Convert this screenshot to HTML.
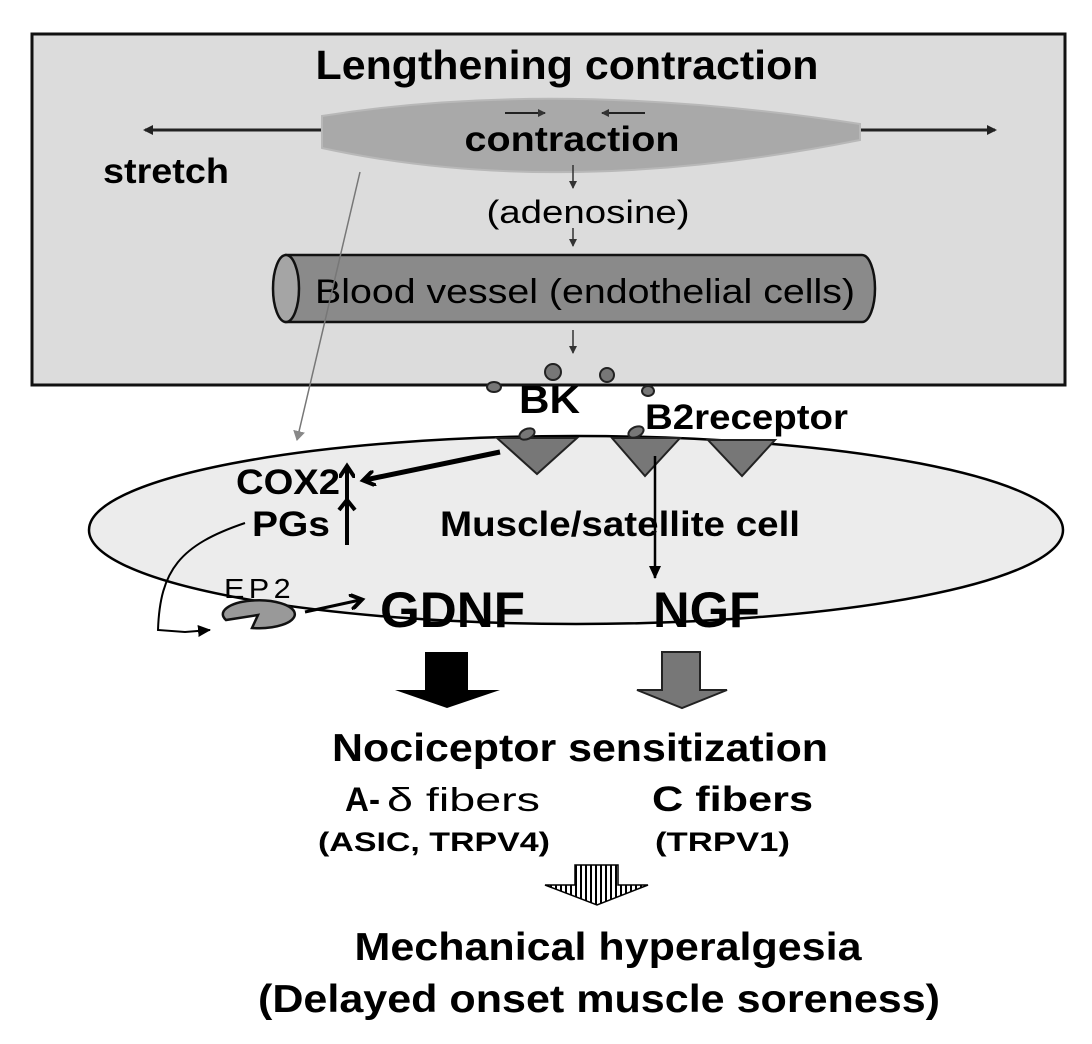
<!DOCTYPE html>
<html><head><meta charset="utf-8"><style>
html,body{margin:0;padding:0;background:#fff;}
svg{display:block;}
text{font-family:"Liberation Sans",sans-serif;fill:#000;}
.b{font-weight:bold;}
</style></head><body>
<svg width="1092" height="1044" viewBox="0 0 1092 1044" xmlns="http://www.w3.org/2000/svg">
<defs>
<marker id="ah" markerWidth="10" markerHeight="10" refX="8" refY="5" orient="auto" markerUnits="userSpaceOnUse"><path d="M0,0 L10,5 L0,10 Z" fill="#222"/></marker>
<marker id="ahs" markerWidth="8" markerHeight="8" refX="7" refY="4" orient="auto" markerUnits="userSpaceOnUse"><path d="M0,0 L8,4 L0,8 Z" fill="#333"/></marker>
<marker id="ahb" markerWidth="16" markerHeight="16" refX="10" refY="8" orient="auto" markerUnits="userSpaceOnUse"><path d="M0,0 L12,8 L0,16" fill="none" stroke="#000" stroke-width="4"/></marker>
<marker id="ahg" markerWidth="10" markerHeight="12" refX="9" refY="6" orient="auto" markerUnits="userSpaceOnUse"><path d="M0,0 L10,6 L0,12 Z" fill="#888"/></marker>
<marker id="ahk" markerWidth="14" markerHeight="14" refX="12" refY="7" orient="auto" markerUnits="userSpaceOnUse"><path d="M0,1 L13,7 L0,13 Z" fill="#000"/></marker>
<pattern id="str" width="5" height="10" patternUnits="userSpaceOnUse"><rect width="5" height="10" fill="#fff"/><rect width="2" height="10" fill="#000"/></pattern>
</defs>
<rect x="32" y="34" width="1033" height="351" fill="#dcdcdc" stroke="#111" stroke-width="3"/>
<text x="567" y="79" class="b" font-size="41" text-anchor="middle" textLength="503" lengthAdjust="spacingAndGlyphs">Lengthening contraction</text>
<line x1="322" y1="130" x2="145" y2="130" stroke="#222" stroke-width="3" marker-end="url(#ah)"/>
<line x1="858" y1="130" x2="995" y2="130" stroke="#222" stroke-width="3" marker-end="url(#ah)"/>
<path d="M322,116 Q560,78 860,124 L860,140 Q560,200 322,148 Z" fill="#a9a9a9" stroke="#b8b8b8" stroke-width="2"/>
<line x1="505" y1="113" x2="545" y2="113" stroke="#222" stroke-width="2" marker-end="url(#ahs)"/>
<line x1="645" y1="113" x2="602" y2="113" stroke="#222" stroke-width="2" marker-end="url(#ahs)"/>
<text x="572" y="151" class="b" font-size="35" text-anchor="middle" textLength="215" lengthAdjust="spacingAndGlyphs">contraction</text>
<text x="103" y="183" class="b" font-size="35" textLength="126" lengthAdjust="spacingAndGlyphs">stretch</text>
<line x1="573" y1="165" x2="573" y2="188" stroke="#333" stroke-width="1.5" marker-end="url(#ahs)"/>
<text x="588" y="223" font-size="32" text-anchor="middle" textLength="203" lengthAdjust="spacingAndGlyphs">(adenosine)</text>
<line x1="573" y1="228" x2="573" y2="246" stroke="#333" stroke-width="1.5" marker-end="url(#ahs)"/>
<path d="M286,255 L862,255 A13,33.5 0 0 1 862,322 L286,322 Z" fill="#8a8a8a" stroke="#111" stroke-width="2.5"/>
<ellipse cx="286" cy="288.5" rx="13" ry="33.5" fill="#a5a5a5" stroke="#111" stroke-width="2.5"/>
<text x="585" y="303" font-size="34" text-anchor="middle" textLength="540" lengthAdjust="spacingAndGlyphs">Blood vessel (endothelial cells)</text>
<line x1="573" y1="330" x2="573" y2="353" stroke="#333" stroke-width="1.5" marker-end="url(#ahs)"/>
<line x1="360" y1="172" x2="297" y2="440" stroke="#777" stroke-width="1.5" marker-end="url(#ahg)"/>
<ellipse cx="576" cy="530" rx="487" ry="94" fill="#ececec" stroke="#000" stroke-width="2.5"/>
<circle cx="553" cy="372" r="8" fill="#777" stroke="#222" stroke-width="2"/>
<circle cx="607" cy="375" r="7" fill="#777" stroke="#222" stroke-width="2"/>
<ellipse cx="494" cy="387" rx="7" ry="5" fill="#777" stroke="#222" stroke-width="2"/>
<ellipse cx="648" cy="391" rx="6" ry="5" fill="#777" stroke="#222" stroke-width="2"/>
<text x="519" y="413" class="b" font-size="39" textLength="61" lengthAdjust="spacingAndGlyphs">BK</text>
<text x="645" y="429" class="b" font-size="35" textLength="203" lengthAdjust="spacingAndGlyphs">B2receptor</text>
<path d="M497,438 L577,438 L537,474 Z" fill="#777" stroke="#222" stroke-width="2"/>
<path d="M612,438 L680,438 L645,476 Z" fill="#777" stroke="#222" stroke-width="2"/>
<path d="M708,440 L775,440 L742,476 Z" fill="#777" stroke="#222" stroke-width="2"/>
<ellipse cx="527" cy="434" rx="8" ry="5" transform="rotate(-25 527 434)" fill="#777" stroke="#222" stroke-width="2"/>
<ellipse cx="636" cy="432" rx="8" ry="5" transform="rotate(-25 636 432)" fill="#777" stroke="#222" stroke-width="2"/>
<line x1="500" y1="452" x2="365" y2="480" stroke="#000" stroke-width="5" marker-end="url(#ahb)"/>
<line x1="347" y1="545" x2="347" y2="468" stroke="#000" stroke-width="4" marker-end="url(#ahb)"/>
<path d="M339,510 L347,500 L355,510" fill="none" stroke="#000" stroke-width="4"/>
<text x="236" y="494" class="b" font-size="35" textLength="104" lengthAdjust="spacingAndGlyphs">COX2</text>
<text x="252" y="536" class="b" font-size="35" textLength="78" lengthAdjust="spacingAndGlyphs">PGs</text>
<line x1="655" y1="456" x2="655" y2="578" stroke="#000" stroke-width="2.5" marker-end="url(#ahk)"/>
<text x="440" y="536" class="b" font-size="35" textLength="360" lengthAdjust="spacingAndGlyphs">Muscle/satellite cell</text>
<path d="M245,523 C180,545 160,570 158,630 L185,632 L210,630" fill="none" stroke="#000" stroke-width="2" marker-end="url(#ahk)"/>
<text x="224" y="598" font-size="28" letter-spacing="4" textLength="71" lengthAdjust="spacingAndGlyphs">EP2</text>
<path d="M258,615 L226,620 A36,14 0 1 1 252,628 Z" fill="#999" stroke="#111" stroke-width="2.5"/>
<line x1="305" y1="612" x2="360" y2="600" stroke="#000" stroke-width="3" marker-end="url(#ahb)"/>
<text x="380" y="627" class="b" font-size="50" textLength="145" lengthAdjust="spacingAndGlyphs">GDNF</text>
<text x="653" y="627" class="b" font-size="50" textLength="107" lengthAdjust="spacingAndGlyphs">NGF</text>
<path d="M425,652 L468,652 L468,690 L500,690 L447,708 L395,690 L425,690 Z" fill="#000"/>
<path d="M662,652 L700,652 L700,690 L727,690 L682,708 L637,690 L662,690 Z" fill="#777" stroke="#222" stroke-width="2"/>
<text x="580" y="761" class="b" font-size="39" text-anchor="middle" textLength="496" lengthAdjust="spacingAndGlyphs">Nociceptor sensitization</text>
<text x="345" y="811" class="b" font-size="34" textLength="35" lengthAdjust="spacingAndGlyphs">A-</text>
<text x="387" y="811" font-size="33" textLength="153" lengthAdjust="spacingAndGlyphs">δ fibers</text>
<text x="652" y="811" class="b" font-size="35" textLength="161" lengthAdjust="spacingAndGlyphs">C fibers</text>
<text x="318" y="851" class="b" font-size="27" textLength="232" lengthAdjust="spacingAndGlyphs">(ASIC, TRPV4)</text>
<text x="655" y="851" class="b" font-size="27" textLength="135" lengthAdjust="spacingAndGlyphs">(TRPV1)</text>
<path d="M575,865 L618,865 L618,885 L648,885 L597,905 L545,885 L575,885 Z" fill="url(#str)" stroke="#000" stroke-width="1.5"/>
<text x="608" y="960" class="b" font-size="39" text-anchor="middle" textLength="507" lengthAdjust="spacingAndGlyphs">Mechanical hyperalgesia</text>
<text x="599" y="1012" class="b" font-size="39" text-anchor="middle" textLength="682" lengthAdjust="spacingAndGlyphs">(Delayed onset muscle soreness)</text>
</svg>
</body></html>
